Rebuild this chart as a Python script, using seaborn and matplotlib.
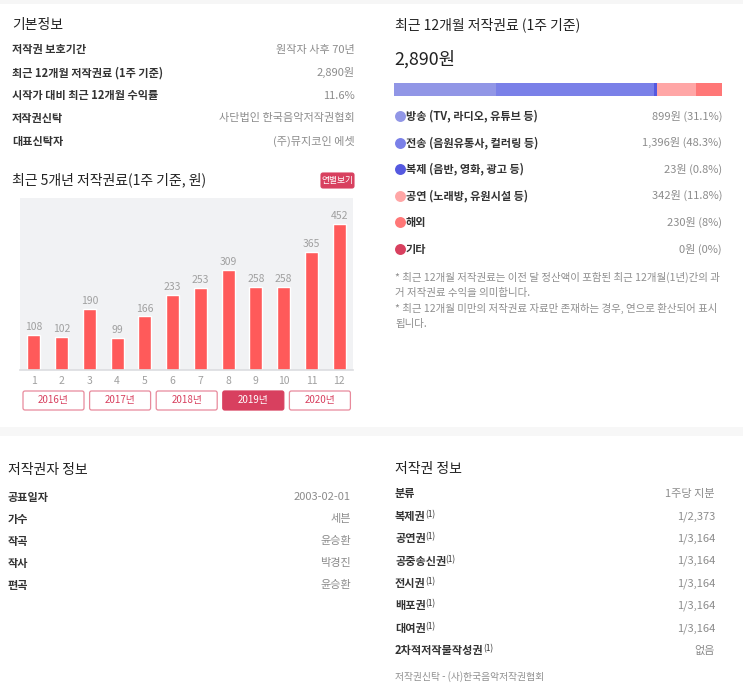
import numpy as np
import pandas as pd
import seaborn as sns
import matplotlib.pyplot as plt
from matplotlib.patches import Rectangle, FancyBboxPatch

# ---- data ----
basic_labels = ["저작권 보호기간", "최근 12개월 저작권료 (1주 기준)", "시작가 대비 최근 12개월 수익률",
                "저작권신탁", "대표신탁자"]
basic_values = ["원작자 사후 70년", "2,890원", "11.6%", "사단법인 한국음악저작권협회", "(주)뮤지코인 에셋"]

months = ["1", "2", "3", "4", "5", "6", "7", "8", "9", "10", "11", "12"]
monthly_royalty = [108, 102, 190, 99, 166, 233, 253, 309, 258, 258, 365, 452]
years = ["2016년", "2017년", "2018년", "2019년", "2020년"]
selected_year = "2019년"

total_royalty = "2,890원"
source_labels = ["방송 (TV, 라디오, 유튜브 등)", "전송 (음원유통사, 컬러링 등)", "복제 (음반, 영화, 광고 등)",
                 "공연 (노래방, 유원시설 등)", "해외", "기타"]
source_amounts = [899, 1396, 23, 342, 230, 0]
source_pcts = ["31.1%", "48.3%", "0.8%", "11.8%", "8%", "0%"]
source_colors = ["#9196e6", "#7a80e8", "#5559e0", "#ffa6a6", "#ff7777", "#d8405f"]
notes = ["* 최근 12개월 저작권료는 이전 달 정산액이 포함된 최근 12개월(1년)간의 과",
         "거 저작권료 수익을 의미합니다.",
         "* 최근 12개월 미만의 저작권료 자료만 존재하는 경우, 연으로 환산되어 표시",
         "됩니다."]

holder_labels = ["공표일자", "가수", "작곡", "작사", "편곡"]
holder_values = ["2003-02-01", "세븐", "윤승환", "박경진", "윤승환"]

right_labels = ["분류", "복제권", "공연권", "공중송신권", "전시권", "배포권", "대여권", "2차적저작물작성권"]
right_values = ["1주당 지분", "1/2,373", "1/3,164", "1/3,164", "1/3,164", "1/3,164", "1/3,164", "없음"]

# ---- style ----
sns.set_style("white")
plt.rcParams["font.family"] = ["Noto Sans CJK KR", "DejaVu Sans"]

DARK = "#222222"
LABEL = "#333333"
GRAY = "#8c8c8c"
RED = "#d8405f"
ROW = 8.0
TITLE = 10.0

fig = plt.figure(figsize=(7.43, 7.0), dpi=100)

# overlay axes in pixel coordinates for the page text
page = fig.add_axes([0, 0, 1, 1])
page.set_xlim(0, 743)
page.set_ylim(700, 0)
page.axis("off")

page.add_patch(Rectangle((0, 0), 743, 4, color="#f6f6f6", lw=0))
page.add_patch(Rectangle((0, 427), 743, 9, color="#f7f7f7", lw=0))

# basic info
page.text(12, 25, "기본정보", fontsize=TITLE, color=DARK, va="center", weight="medium")
for i, (lab, val) in enumerate(zip(basic_labels, basic_values)):
    y = 50 + i * 22.8
    page.text(12, y, lab, fontsize=ROW, color=LABEL, va="center", weight="bold")
    page.text(355, y, val, fontsize=ROW, color=GRAY, va="center", ha="right")

# 5-year chart title and toggle
page.text(12, 180, "최근 5개년 저작권료(1주 기준, 원)", fontsize=TITLE, color=DARK, va="center", weight="medium")
page.add_patch(FancyBboxPatch((321, 173), 33, 15, boxstyle="round,pad=0,rounding_size=2",
                              fc=RED, ec=RED, lw=0.8))
page.text(337.5, 180.5, "연별보기", fontsize=6.3, color="white", va="center", ha="center")

# year buttons
for i, yr in enumerate(years):
    x0 = 23 + i * 66.6
    active = yr == selected_year
    page.add_patch(FancyBboxPatch((x0, 391), 61, 19, boxstyle="round,pad=0,rounding_size=2",
                                  fc=RED if active else "white", ec="#e88a9c" if not active else RED, lw=0.9))
    page.text(x0 + 30.5, 400.5, yr, fontsize=7, color="white" if active else RED,
              va="center", ha="center")

# right panel: last 12 months
page.text(395, 25, "최근 12개월 저작권료 (1주 기준)", fontsize=TITLE, color=DARK, va="center", weight="medium")
page.text(394, 59, total_royalty, fontsize=12.8, color=DARK, va="center", weight="medium")
for i, (lab, amt, pct, col) in enumerate(zip(source_labels, source_amounts, source_pcts, source_colors)):
    y = 116 + i * 26.6
    page.scatter([400], [y], s=62, color=col, lw=0)
    page.text(406, y, lab, fontsize=ROW, color=LABEL, va="center", weight="bold")
    page.text(722, y, f"{amt:,}원 ({pct})", fontsize=ROW, color=GRAY, va="center", ha="right")
for i, line in enumerate(notes):
    page.text(395, 277 + i * 15.7, line, fontsize=7.55, color="#8f8f8f", va="center")

# copyright holder info
page.text(8, 470, "저작권자 정보", fontsize=TITLE, color=DARK, va="center", weight="medium")
for i, (lab, val) in enumerate(zip(holder_labels, holder_values)):
    y = 497 + i * 22
    page.text(8, y, lab, fontsize=ROW, color=LABEL, va="center", weight="bold")
    page.text(351, y, val, fontsize=ROW, color=GRAY, va="center", ha="right")

# copyright info
page.text(395, 469, "저작권 정보", fontsize=TITLE, color=DARK, va="center", weight="medium")
for i, (lab, val) in enumerate(zip(right_labels, right_values)):
    y = 494 + i * 22.4
    t = page.text(395, y, lab, fontsize=ROW, color=LABEL, va="center", weight="bold")
    if i > 0:
        page.annotate("(1)", xy=(1, 1.0), xycoords=t, xytext=(-0.5, 0), textcoords="offset points",
                      fontsize=6, color=LABEL, va="top", ha="left")
    page.text(715, y, val, fontsize=ROW, color=GRAY, va="center", ha="right")
page.text(395, 677, "저작권신탁 - (사)한국음악저작권협회", fontsize=7, color="#8f8f8f", va="center")

# ---- monthly bar chart ----
ax = fig.add_axes([20 / 743, 1 - 370 / 700, 333 / 743, 172 / 700])
df = pd.DataFrame({"month": months, "royalty": monthly_royalty})
sns.barplot(data=df, x="month", y="royalty", color="#ff5a5a", width=0.47, saturation=1, ax=ax)
ax.set_facecolor("#f1f2f4")
ax.set_ylim(0, 532)
ax.set_xlim(-0.5, len(months) - 0.5)
ax.bar_label(ax.containers[0], padding=2, fontsize=7.5, color="#a0a0a0")
for s in ["top", "left", "right"]:
    ax.spines[s].set_visible(False)
ax.spines["bottom"].set_color("#dcdde0")
ax.spines["bottom"].set_linewidth(1.2)
ax.set_yticks([])
ax.set_xlabel("")
ax.set_ylabel("")
ax.tick_params(axis="x", length=0, pad=4, labelsize=7.5, labelcolor="#a0a0a0")

# ---- stacked composition bar ----
bx = fig.add_axes([394 / 743, 1 - 96 / 700, 328 / 743, 13 / 700])
lefts = np.concatenate([[0], np.cumsum(source_amounts)[:-1]])
bx.barh([0] * len(source_amounts), source_amounts, left=lefts, color=source_colors, height=1, lw=0)
bx.set_xlim(0, sum(source_amounts))
bx.set_ylim(-0.5, 0.5)
bx.axis("off")

fig.savefig("out.png", dpi=100)
